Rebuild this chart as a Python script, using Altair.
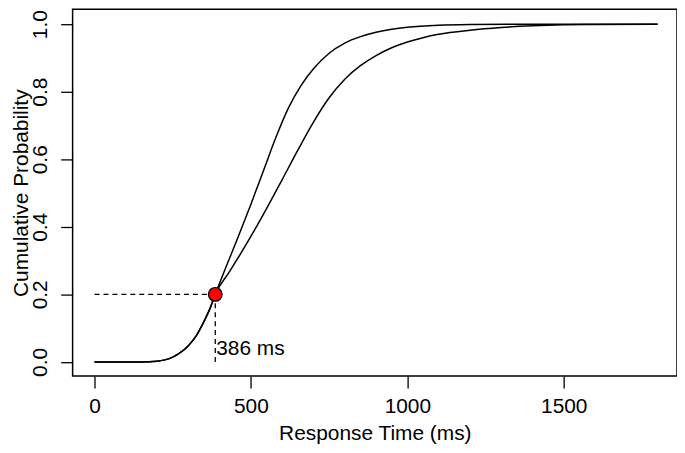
import altair as alt
import pandas as pd

# Shared lower part of both cumulative curves (up to the crossing point)
lower_t = [0, 100, 150, 200, 225, 250, 275, 300, 325, 350, 370, 386]
lower_p = [0.0, 0.0, 0.0, 0.002, 0.006, 0.014, 0.028, 0.048, 0.077, 0.12, 0.16, 0.2]

# Faster (steeper) curve above the crossing
fast_t = [386, 420, 460, 500, 540, 580, 620, 660, 700, 750, 800, 850, 900, 950, 1000, 1100, 1200, 1400, 1600, 1800]
fast_p = [0.2, 0.28, 0.372, 0.467, 0.566, 0.665, 0.752, 0.818, 0.868, 0.914, 0.944, 0.963, 0.976, 0.985, 0.991, 0.997, 0.999, 1.0, 1.0, 1.0]

# Slower curve above the crossing
slow_t = [386, 430, 470, 510, 550, 600, 650, 700, 750, 800, 850, 900, 950, 1000, 1050, 1100, 1200, 1300, 1400, 1500, 1600, 1800]
slow_p = [0.2, 0.265, 0.325, 0.388, 0.454, 0.54, 0.627, 0.71, 0.782, 0.837, 0.877, 0.907, 0.93, 0.947, 0.96, 0.97, 0.982, 0.99, 0.995, 0.998, 0.999, 1.0]

cross_t = [386]
cross_p = [0.2]
label_text = ["386 ms"]

x_ticks = [0, 500, 1000, 1500]
y_ticks = [0.0, 0.2, 0.4, 0.6, 0.8, 1.0]

rows = []
for t, p in zip(lower_t + fast_t[1:], lower_p + fast_p[1:]):
    rows.append({"t": t, "p": p, "curve": "fast"})
for t, p in zip(lower_t + slow_t[1:], lower_p + slow_p[1:]):
    rows.append({"t": t, "p": p, "curve": "slow"})
curves = pd.DataFrame(rows)

pt = pd.DataFrame({"t": cross_t, "p": cross_p})
hline = pd.DataFrame({"t": [0], "t2": cross_t, "p": cross_p})
vline = pd.DataFrame({"t": cross_t, "p": [0.0], "p2": cross_p})
lab = pd.DataFrame({"t": cross_t, "p": [0.037], "label": label_text})

FONT = "Liberation Sans"
FS = 21

xscale = alt.Scale(domain=[-70, 1862], nice=False, zero=False)
yscale = alt.Scale(domain=[-0.042, 1.044], nice=False, zero=False)

xaxis = alt.Axis(values=x_ticks, format="d", title="Response Time (ms)", grid=False, domain=False,
                 tickColor="black", tickWidth=1.3, tickSize=12, labelPadding=8,
                 labelFont=FONT, labelFontSize=FS, labelColor="black",
                 titleFont=FONT, titleFontSize=FS, titleFontWeight="normal", titleColor="black",
                 titleY=64, titleBaseline="alphabetic")
yaxis = alt.Axis(values=y_ticks, format=".1f", title="Cumulative Probability", grid=False, domain=False,
                 tickColor="black", tickWidth=1.3, tickSize=12, labelPadding=10,
                 labelAngle=270, labelAlign="center", labelBaseline="bottom",
                 labelFont=FONT, labelFontSize=FS, labelColor="black",
                 titleFont=FONT, titleFontSize=FS, titleFontWeight="normal", titleColor="black",
                 titleX=-51, titleBaseline="middle")

lines = alt.Chart(curves).mark_line(color="black", strokeWidth=1.5, interpolate="monotone").encode(
    x=alt.X("t:Q", scale=xscale, axis=xaxis),
    y=alt.Y("p:Q", scale=yscale, axis=yaxis),
    detail="curve:N",
)

h = alt.Chart(hline).mark_rule(color="black", strokeWidth=1.3, strokeDash=[5, 4]).encode(
    x="t:Q", x2="t2:Q", y="p:Q")
v = alt.Chart(vline).mark_rule(color="black", strokeWidth=1.3, strokeDash=[5, 4]).encode(
    x="t:Q", y="p:Q", y2="p2:Q")

dot = alt.Chart(pt).mark_point(shape="circle", filled=True, fill="#ff0000", stroke="black",
                               strokeWidth=1.2, size=190, opacity=1).encode(x="t:Q", y="p:Q")

txt = alt.Chart(lab).mark_text(align="left", baseline="middle", dx=1, font=FONT, fontSize=FS,
                               color="black").encode(x="t:Q", y="p:Q", text="label:N")

chart = alt.layer(h, v, lines, dot, txt).properties(
    width=608, height=369,
    autosize=alt.AutoSizeParams(type="none"),
    padding={"left": 65, "top": 0, "right": 0, "bottom": 68},
).configure_view(stroke="black", strokeWidth=1.5)

chart.save("out.html", embed_options={"renderer": "svg", "actions": False})
